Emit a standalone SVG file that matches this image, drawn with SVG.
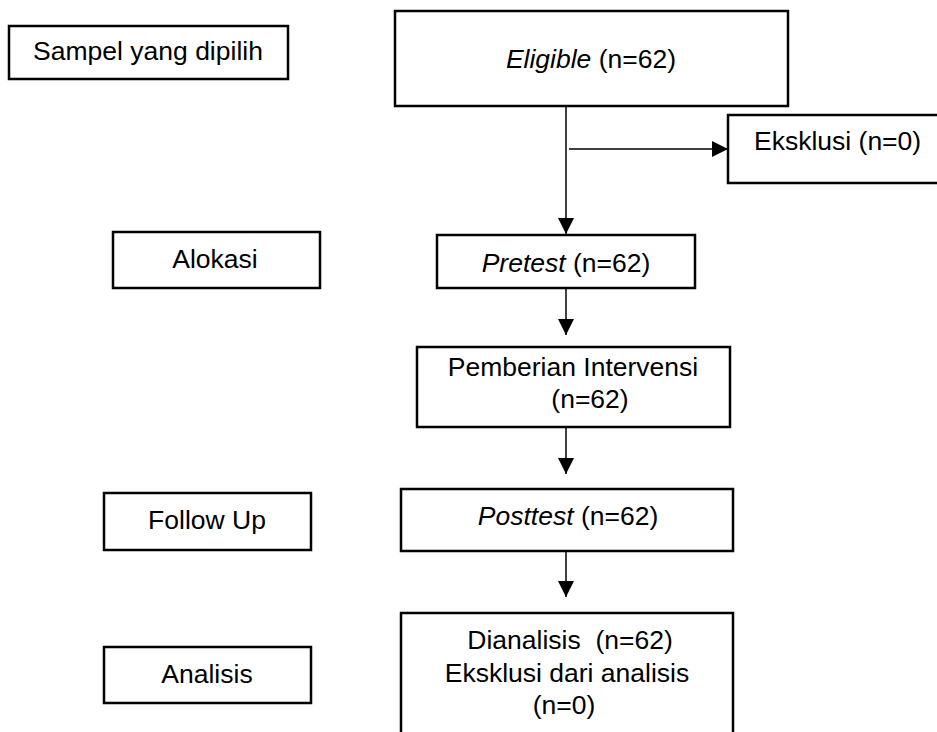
<svg xmlns="http://www.w3.org/2000/svg" width="937" height="732" viewBox="0 0 937 732">
<style>
.box{fill:#fff;stroke:#000;stroke-width:2.5}
text{font-family:"Liberation Sans",Arial,sans-serif;font-size:26.5px;fill:#000}
.c{text-anchor:middle}
.conn{stroke:#000;stroke-width:1.5;fill:none}
</style>
<defs>
<marker id="ah" viewBox="0 0 16 16" refX="16" refY="8" markerWidth="16" markerHeight="16" markerUnits="userSpaceOnUse" orient="auto">
<path d="M0,0 L16,8 L0,16 Z" fill="#000"/>
</marker>
</defs>
<rect width="937" height="732" fill="#fff"/>
<g id="connectors">
<line class="conn" x1="566" y1="106" x2="566" y2="234" marker-end="url(#ah)"/>
<line class="conn" x1="569" y1="149" x2="728" y2="149" marker-end="url(#ah)"/>
<line class="conn" x1="566" y1="288" x2="566" y2="335" marker-end="url(#ah)"/>
<line class="conn" x1="566" y1="427" x2="566" y2="474" marker-end="url(#ah)"/>
<line class="conn" x1="566" y1="551" x2="566" y2="597" marker-end="url(#ah)"/>
</g>
<g id="sampel">
<rect class="box" x="9" y="26" width="279" height="53"/>
<text class="c" x="148" y="60">Sampel yang dipilih</text>
</g>
<g id="eligible">
<rect class="box" x="395" y="11" width="393" height="95"/>
<text class="c" x="591" y="68"><tspan font-style="italic">Eligible</tspan> (n=62)</text>
</g>
<g id="eksklusi">
<rect class="box" x="728" y="115" width="215" height="68"/>
<text x="754" y="150">Eksklusi (n=0)</text>
</g>
<g id="alokasi">
<rect class="box" x="113" y="232" width="207" height="56"/>
<text class="c" x="215" y="268">Alokasi</text>
</g>
<g id="pretest">
<rect class="box" x="437" y="235" width="258" height="53"/>
<text class="c" x="566" y="272"><tspan font-style="italic">Pretest</tspan> (n=62)</text>
</g>
<g id="intervensi">
<rect class="box" x="417" y="347" width="313" height="80"/>
<text class="c" x="573" y="376">Pemberian Intervensi</text>
<text class="c" x="590" y="408">(n=62)</text>
</g>
<g id="followup">
<rect class="box" x="104" y="493" width="207" height="57"/>
<text class="c" x="207" y="529">Follow Up</text>
</g>
<g id="posttest">
<rect class="box" x="401" y="489" width="332" height="62"/>
<text class="c" x="568" y="525"><tspan font-style="italic">Posttest</tspan> (n=62)</text>
</g>
<g id="analisis">
<rect class="box" x="104" y="647" width="207" height="56"/>
<text class="c" x="207" y="683">Analisis</text>
</g>
<g id="dianalisis">
<rect class="box" x="401" y="613" width="332" height="140"/>
<text class="c" x="570" y="649" xml:space="preserve">Dianalisis  (n=62)</text>
<text class="c" x="567" y="682">Eksklusi dari analisis</text>
<text class="c" x="564" y="714">(n=0)</text>
</g>
</svg>
